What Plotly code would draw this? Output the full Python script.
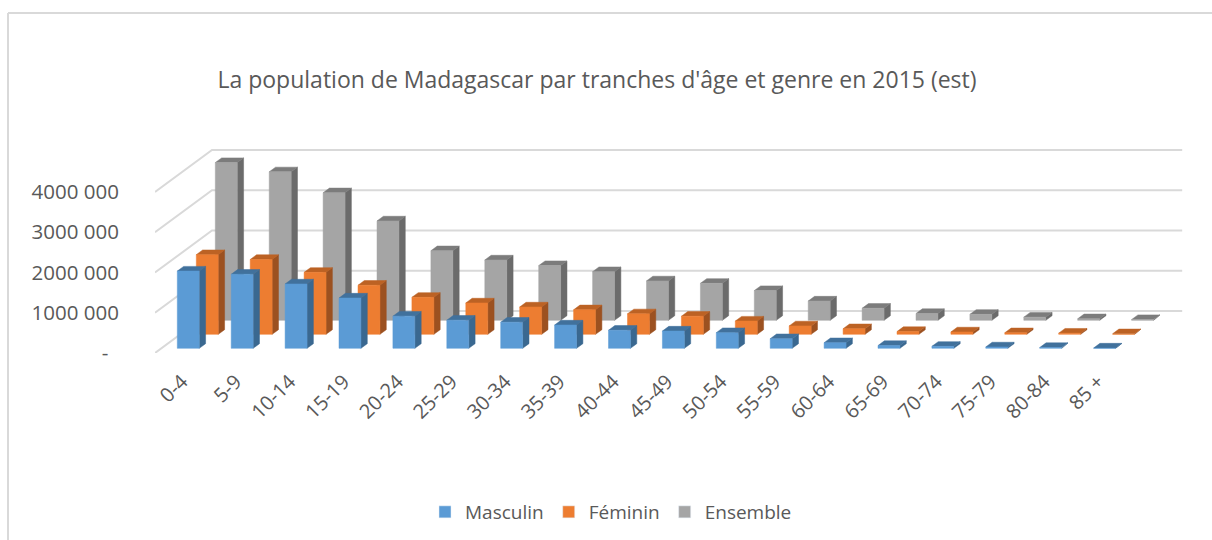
import plotly.graph_objects as go

categories = ["0-4", "5-9", "10-14", "15-19", "20-24", "25-29", "30-34", "35-39", "40-44",
              "45-49", "50-54", "55-59", "60-64", "65-69", "70-74", "75-79", "80-84", "85 +"]
masculin = [1920000, 1840000, 1600000, 1250000, 800000, 700000, 650000, 580000, 450000,
            430000, 390000, 240000, 140000, 70000, 50000, 35000, 20000, 8000]
feminin = [1980000, 1860000, 1540000, 1220000, 920000, 780000, 680000, 610000, 510000,
           450000, 330000, 210000, 140000, 70000, 60000, 40000, 30000, 15000]
ensemble = [3920000, 3690000, 3170000, 2470000, 1730000, 1500000, 1360000, 1210000, 980000,
            920000, 740000, 480000, 300000, 170000, 150000, 80000, 40000, 20000]
y_ticks = [0, 1000000, 2000000, 3000000, 4000000]
y_tick_labels = ["-\u00a0\u00a0", "1000 000", "2000 000", "3000 000", "4000 000"]

series = [
    ("Masculin", masculin, "#5B9BD5", "#3A6890", "#41719C"),
    ("Féminin", feminin, "#ED7D31", "#9C5120", "#BC6224"),
    ("Ensemble", ensemble, "#A5A5A5", "#6B6B6B", "#7C7C7C"),
]

# fake 3d: the floor is sheared back by this much, in axis units
depth_x = 1.0575
depth_y = 1043000
bar_width = 0.407
font = "Open Sans, sans-serif"
text_color = "#595959"
grid_color = "#D9D9D9"

# plot area in pixels
left, right, top, bottom = 155, 1190, 140, 353


def project(x, y, d):
    # d goes from 0 (front of floor) to 1 (back wall)
    return x + depth_x * d, y + depth_y * d


def faces(values, s):
    d0 = (s + 1 / 3) / 3
    d1 = (s + 2 / 3) / 3
    front_x, front_y, side_x, side_y, top_x, top_y = [], [], [], [], [], []
    for i, v in enumerate(values):
        x0 = i + 0.5 - bar_width / 2
        x1 = i + 0.5 + bar_width / 2
        pts = [project(x0, 0, d0), project(x1, 0, d0), project(x1, v, d0), project(x0, v, d0), project(x0, 0, d0)]
        front_x += [p[0] for p in pts] + [None]
        front_y += [p[1] for p in pts] + [None]
        pts = [project(x1, 0, d0), project(x1, 0, d1), project(x1, v, d1), project(x1, v, d0), project(x1, 0, d0)]
        side_x += [p[0] for p in pts] + [None]
        side_y += [p[1] for p in pts] + [None]
        pts = [project(x0, v, d0), project(x1, v, d0), project(x1, v, d1), project(x0, v, d1), project(x0, v, d0)]
        top_x += [p[0] for p in pts] + [None]
        top_y += [p[1] for p in pts] + [None]
    return (front_x, front_y), (side_x, side_y), (top_x, top_y)


def poly(xy, color):
    return go.Scatter(x=xy[0], y=xy[1], mode="lines", fill="toself", fillcolor=color,
                      line=dict(color=color, width=0.5), showlegend=False, hoverinfo="skip")


fig = go.Figure()

# gridlines: diagonal on the side wall, then straight along the back wall
grid_x, grid_y = [], []
for t in y_ticks:
    bx, by = project(0, t, 1)
    ex, ey = project(len(categories), t, 1)
    grid_x += [0, bx, ex, None]
    grid_y += [t, by, ey, None]
fig.add_trace(go.Scatter(x=grid_x, y=grid_y, mode="lines", line=dict(color=grid_color, width=2),
                         showlegend=False, hoverinfo="skip"))

# back series first so the front ones cover them
for s in [2, 1, 0]:
    name, values, c_front, c_side, c_top = series[s]
    front, side, topf = faces(values, s)
    fig.add_trace(poly(side, c_side))
    fig.add_trace(poly(topf, c_top))
    fig.add_trace(poly(front, c_front))

# legend entries only
for name, values, c_front, c_side, c_top in series:
    fig.add_trace(go.Bar(x=[None], y=[None], name=name, marker_color=c_front))

w = right - left
h = bottom - top
fig.update_layout(
    width=1212,
    height=540,
    # the legend would otherwise push the margins and squash the plot
    margin=dict(l=left, r=1212 - right, t=top, b=540 - bottom, autoexpand=False),
    paper_bgcolor="white",
    plot_bgcolor="white",
    showlegend=True,
    title=dict(text="La population de Madagascar par tranches d'âge et genre en 2015 (est)",
               x=597 / 1212, xanchor="center", y=1 - 80 / 540, yanchor="middle",
               font=dict(family=font, size=23, color=text_color)),
    legend=dict(orientation="h", x=(425 - left) / w, xanchor="left", y=(bottom - 512) / h, yanchor="middle",
                font=dict(family=font, size=19, color=text_color), traceorder="normal"),
    xaxis=dict(range=[0, w / 53.9], tickvals=[i + 0.5 for i in range(len(categories))], ticktext=categories,
               tickangle=-45, ticks="outside", ticklen=8, tickcolor="rgba(0,0,0,0)", showgrid=False,
               zeroline=False, showline=False, tickfont=dict(family=font, size=20, color=text_color)),
    yaxis=dict(range=[0, h / 40.25 * 1000000], tickvals=y_ticks, ticktext=y_tick_labels,
               ticks="outside", ticklen=31, tickcolor="rgba(0,0,0,0)", showgrid=False,
               zeroline=False, showline=False, tickfont=dict(family=font, size=20.5, color=text_color)),
    shapes=[
        dict(type="line", xref="paper", yref="paper", x0=(8 - left) / w, x1=(1212 - left) / w,
             y0=(bottom - 13) / h, y1=(bottom - 13) / h, line=dict(color=grid_color, width=2)),
        dict(type="line", xref="paper", yref="paper", x0=(8 - left) / w, x1=(8 - left) / w,
             y0=(bottom - 13) / h, y1=(bottom - 540) / h, line=dict(color=grid_color, width=2)),
    ],
)

fig.write_html("out.html", config={"displayModeBar": False}, post_script="document.body.style.margin='0';")
